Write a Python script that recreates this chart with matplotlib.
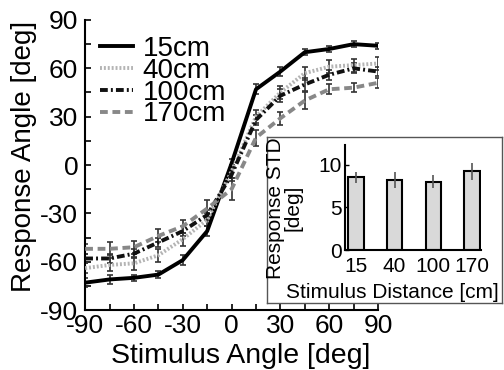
import numpy as np
import matplotlib
matplotlib.use('Agg')
import matplotlib.pyplot as plt

plt.rcParams['font.family'] = ['Liberation Sans', 'DejaVu Sans']
plt.rcParams['axes.unicode_minus'] = False

# Stimulus angles (deg)
angles = [-90, -75, -60, -45, -30, -15, 0, 15, 30, 45, 60, 75, 90]

# Mean response angle per stimulus distance
resp_15 = [-73, -71, -70, -68, -59, -41, 1, 47, 58, 70, 72, 75, 74]
resp_40 = [-64, -62, -61, -56, -46, -34, -4, 30, 45, 57, 61, 62, 63]
resp_100 = [-58, -58, -55, -48, -41, -31, -6, 28, 43, 50, 56, 60, 58]
resp_170 = [-52, -52, -51, -44, -38, -27, -15, 17, 29, 40, 47, 48, 51]

# Error bars
err_15 = [3, 3, 2, 2, 3, 3, 3, 3, 3, 2, 2, 2, 2]
err_40 = [3, 4, 4, 4, 4, 4, 4, 4, 4, 4, 4, 4, 4]
err_100 = [3, 3, 3, 3, 3, 3, 4, 3, 4, 4, 3, 3, 3]
err_170 = [3, 4, 4, 4, 4, 5, 7, 5, 4, 5, 3, 3, 3]

# Inset: response STD per distance
dist_labels = ['15', '40', '100', '170']
std_vals = [8.5, 8.2, 8.0, 9.2]
std_err = [0.6, 0.9, 0.8, 1.0]

fig = plt.figure(figsize=(5.04, 3.7), dpi=100)
ax = fig.add_axes([0.169, 0.162, 0.581, 0.784])

series = [
    ('15cm', resp_15, err_15, dict(color='black', linestyle='-')),
    ('40cm', resp_40, err_40, dict(color='#b4b4b4', linestyle=(0, (0.5, 0.5)))),
    ('100cm', resp_100, err_100, dict(color='#111111', linestyle=(0, (2, 0.8, 0.5, 0.8)))),
    ('170cm', resp_170, err_170, dict(color='#888888', linestyle=(0, (2, 1.2)))),
]

for name, vals, errs, style in series:
    ax.errorbar(angles, vals, yerr=errs, fmt='none', ecolor='#333333',
                elinewidth=1.2, capsize=2.2, capthick=1.2, zorder=2)
    ax.plot(angles, vals, linewidth=2.8, label=name, zorder=3, **style)

ax.set_xlim(-90, 90)
ax.set_ylim(-90, 90)
ax.set_xticks(np.arange(-90, 91, 30))
ax.set_yticks(np.arange(-90, 91, 30))
ax.set_xticks(np.arange(-75, 90, 30), minor=True)
ax.set_yticks(np.arange(-75, 90, 30), minor=True)
ax.tick_params(which='both', direction='in', length=4, width=1.2, labelsize=19)
ax.tick_params(axis='x', pad=3)
ax.tick_params(axis='y', pad=5)
for s in ['top', 'right']:
    ax.spines[s].set_visible(False)
for s in ['left', 'bottom']:
    ax.spines[s].set_linewidth(1.5)

ax.set_xlabel('Stimulus Angle [deg]', fontsize=20.5)
ax.set_ylabel('Response Angle [deg]', fontsize=20)
ax.xaxis.set_label_coords(0.532, -0.112)
ax.yaxis.set_label_coords(-0.165, 0.53)

ax.legend(loc='upper left', bbox_to_anchor=(0.05, 0.945), frameon=False,
          fontsize=20, borderpad=0, borderaxespad=0, handlelength=1.2,
          handletextpad=0.34, labelspacing=-0.15)

# Inset frame
frame = fig.add_axes([0.530, 0.181, 0.466, 0.449])
frame.set_xticks([])
frame.set_yticks([])
for s in frame.spines.values():
    s.set_edgecolor('#555555')
    s.set_linewidth(1.0)
frame.set_zorder(5)

ins = fig.add_axes([0.6845, 0.3243, 0.27, 0.284])
ins.set_zorder(6)
ins.patch.set_alpha(0)
xpos = np.arange(1, len(std_vals) + 1)
ins.bar(xpos, std_vals, width=0.4, color='#d9d9d9', edgecolor='black', linewidth=1.5, zorder=2)
ins.errorbar(xpos, std_vals, yerr=std_err, fmt='none', ecolor='#555555',
             elinewidth=1.2, capsize=0, zorder=3)
ins.set_xlim(0.72, 4.23)
ins.set_ylim(0, 12.3)
ins.set_xticks(xpos)
ins.set_xticklabels(dist_labels)
ins.set_yticks([0, 5, 10])
ins.tick_params(which='both', direction='in', length=3, width=1.0, labelsize=15)
ins.tick_params(axis='y', pad=2)
ins.tick_params(axis='x', pad=5)
for s in ['top', 'right']:
    ins.spines[s].set_visible(False)
for s in ['left', 'bottom']:
    ins.spines[s].set_linewidth(1.5)
ins.set_xlabel('Stimulus Distance [cm]', fontsize=15)
ins.set_ylabel('Response STD\n[deg]', fontsize=15, linespacing=0.9)
ins.xaxis.set_label_coords(0.35, -0.31)
ins.yaxis.set_label_coords(-0.31, 0.40)

fig.savefig('out.png', dpi=100)
